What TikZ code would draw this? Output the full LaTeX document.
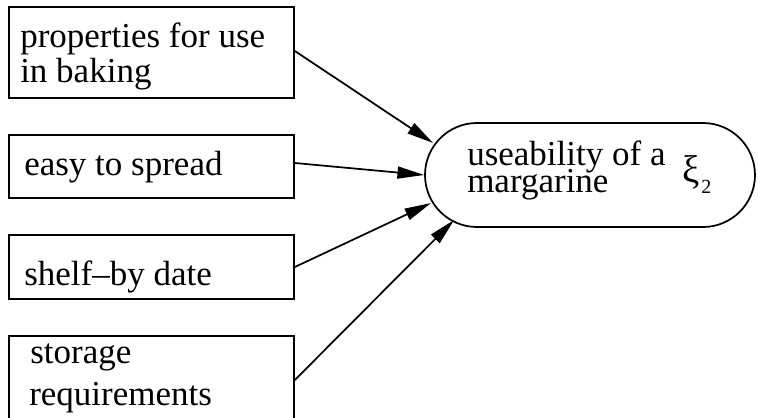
\documentclass[tikz,border=0pt]{standalone}
\usepackage{fontspec}
\setmainfont{Liberation Serif}
\usetikzlibrary{arrows.meta,shapes.misc,calc}
\begin{document}
\begin{tikzpicture}[x=0.75pt,y=-0.75pt,
  box/.style={draw,line width=1.3pt,rectangle,inner sep=0pt,minimum width=213.75pt},
  txt/.style={anchor=base west,inner sep=0pt,font=\fontsize{26.25}{26.25}\selectfont},
  arr/.style={line width=1.3pt,-{Triangle[length=20pt,width=9pt]}},
  stad/.style={draw,line width=1.3pt,rounded rectangle,inner sep=0pt,minimum width=247.5pt,minimum height=78pt}]
\useasboundingbox (0,0) rectangle (758,418);
% boxes
\node[box,minimum height=68.25pt] (b1) at (151.5,52.5) {};
\node[box,minimum height=47.25pt] (b2) at (151.5,166.5) {};
\node[box,minimum height=48pt] (b3) at (151.5,267) {};
\node[box,minimum height=66pt] (b4) at (151.5,380) {};
% texts
\node[txt] (t1a) at (20,47) {properties for use};
\node[txt] (t1b) at (20,82) {in baking};
\node[txt] (t2) at (24,175) {easy to spread};
\node[txt] (t3) at (24,285) {shelf–by date};
\node[txt] (t4a) at (30,363) {storage};
\node[txt] (t4b) at (29,405) {requirements};
% stadium
\node[stad] (s) at (590,175) {};
\node[txt] (sa) at (467,165) {useability of a};
\node[txt] (sb) at (467,192) {margarine};
\node[txt,font=\fontsize{29}{29}\selectfont] (xi) at (682,182) {ξ};
\node[txt,font=\fontsize{15}{15}\selectfont] (xis) at (701,193) {2};
% end points on the stadium
\coordinate (e1) at ($(s.west)+(9,-32)$);
\coordinate (e2) at (s.west);
\coordinate (e3) at ($(s.west)+(7,28)$);
\coordinate (e4) at ($(s.west)+(30,45)$);
% arrows
\draw[arr] ($(b1.east)+(0,-1.5)$) -- (e1);
\draw[arr] ($(b2.east)+(0,-3.5)$) -- (e2);
\draw[arr] (b3.east) -- (e3);
\draw[arr] (b4.east) -- (e4);
\end{tikzpicture}
\end{document}
